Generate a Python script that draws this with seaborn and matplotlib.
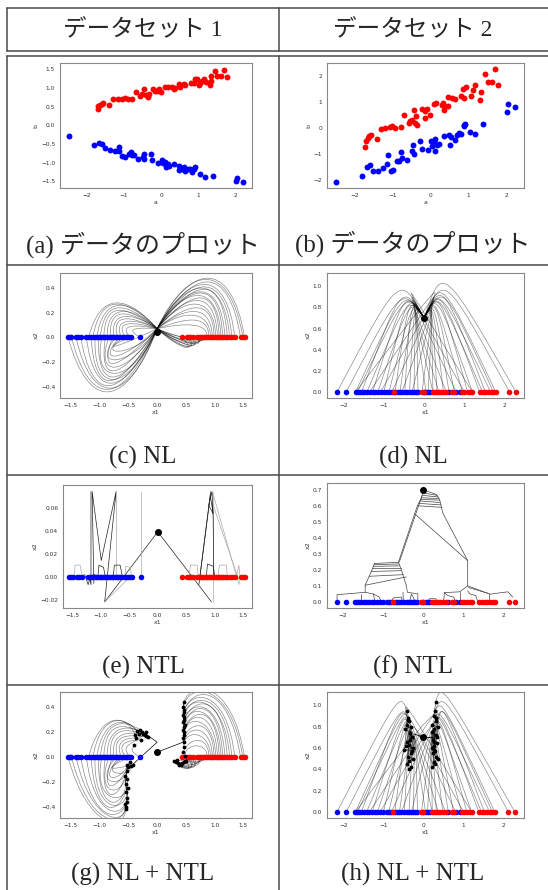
import numpy as np
import matplotlib
matplotlib.use('Agg')
import matplotlib.pyplot as plt
import seaborn as sns
from matplotlib.path import Path
from matplotlib.patches import PathPatch

# ---- データ ----
# (a) データセット1
d1_red_a = [-1.70, -1.68, -1.64, -1.59, -1.55, -1.39, -1.28, -1.17, -1.06, -0.98,
            -0.89, -0.77, -0.67, -0.58, -0.52, -0.46, -0.41, -0.36, -0.32, -0.23,
            -0.16, -0.12, -0.05, 0.00, 0.11, 0.18, 0.30, 0.33, 0.38, 0.47,
            0.51, 0.60, 0.64, 0.80, 0.87, 0.91, 0.96, 1.00, 1.05, 1.09,
            1.15, 1.19, 1.32, 1.34, 1.30, 1.45, 1.49, 1.60, 1.69, 1.76]
d1_red_b = [0.44, 0.51, 0.55, 0.58, 0.60, 0.55, 0.70, 0.71, 0.71, 0.73,
            0.71, 0.71, 0.88, 0.79, 0.84, 0.96, 0.82, 0.76, 0.85, 0.96,
            0.93, 0.91, 0.96, 0.88, 1.04, 1.04, 1.02, 0.97, 1.00, 1.12,
            1.04, 1.11, 1.09, 1.13, 1.14, 1.23, 1.25, 1.09, 1.13, 1.20,
            1.25, 1.16, 1.18, 1.31, 1.07, 1.45, 1.32, 1.32, 1.49, 1.29]
d1_blue_a = [-2.46, -1.79, -1.66, -1.59, -1.50, -1.37, -1.23, -1.14, -1.13, -1.04,
             -0.97, -0.85, -0.81, -0.77, -0.74, -0.61, -0.49, -0.47, -0.45, -0.28,
             -0.24, -0.09, 0.02, 0.04, 0.09, 0.13, 0.18, 0.22, 0.35, 0.47,
             0.48, 0.55, 0.60, 0.64, 0.72, 0.78, 0.82, 0.87, 0.91, 1.03,
             1.16, 1.39, 1.99, 2.03, 2.19]
d1_blue_b = [-0.29, -0.54, -0.48, -0.49, -0.60, -0.67, -0.70, -0.59, -0.70, -0.83,
             -0.86, -0.77, -0.72, -0.80, -0.79, -0.89, -0.86, -0.76, -0.89, -0.78,
             -0.93, -1.01, -0.93, -1.01, -0.99, -1.12, -1.05, -1.08, -1.03, -1.08,
             -1.21, -1.17, -1.13, -1.23, -1.17, -1.18, -1.25, -1.17, -1.13, -1.30,
             -1.39, -1.37, -1.50, -1.41, -1.53]

# (b) データセット2
d2_red_a = [-1.72, -1.70, -1.66, -1.63, -1.57, -1.41, -1.31, -1.19, -1.07, -1.02,
            -0.93, -0.78, -0.69, -0.58, -0.54, -0.50, -0.45, -0.41, -0.38, -0.36,
            -0.23, -0.16, -0.14, -0.10, -0.01, 0.10, 0.15, 0.29, 0.32, 0.34,
            0.36, 0.45, 0.47, 0.56, 0.63, 0.79, 0.85, 0.89, 0.94, 1.07,
            1.11, 1.16, 1.29, 1.33, 1.44, 1.51, 1.62, 1.70, 1.77]
d2_red_b = [-0.74, -0.50, -0.40, -0.33, -0.29, -0.44, -0.04, -0.01, 0.01, 0.05,
            -0.01, 0.01, 0.49, 0.18, 0.24, 0.31, 0.69, 0.18, 0.44, 0.12,
            0.73, 0.63, 0.37, 0.72, 0.49, 0.92, 0.96, 0.86, 0.97, 0.68,
            0.82, 0.83, 1.18, 1.14, 1.10, 1.21, 1.49, 1.14, 1.55, 1.21,
            1.45, 1.63, 1.08, 1.36, 2.08, 1.76, 1.76, 2.24, 1.65]
d2_blue_a = [-2.48, -1.82, -1.68, -1.60, -1.53, -1.39, -1.26, -1.15, -1.13, -1.04,
             -0.98, -0.88, -0.82, -0.79, -0.76, -0.62, -0.50, -0.47, -0.45, -0.29,
             -0.23, -0.08, 0.01, 0.03, 0.08, 0.12, 0.12, 0.16, 0.22, 0.34,
             0.48, 0.50, 0.54, 0.63, 0.70, 0.74, 0.81, 0.88, 0.89, 0.91,
             1.04, 1.17, 1.39, 2.00, 2.05, 2.21]
d2_blue_b = [-2.10, -1.87, -1.51, -1.43, -1.65, -1.65, -1.55, -1.38, -1.04, -1.65,
             -1.62, -1.29, -1.29, -0.94, -1.17, -1.23, -0.91, -0.65, -1.03, -0.53,
             -0.82, -0.87, -0.50, -0.69, -0.50, -0.44, -0.91, -0.65, -0.63, -0.31,
             -0.27, -0.65, -0.37, -0.46, -0.27, -0.21, -0.23, 0.05, 0.12, 0.15,
             -0.18, -0.24, 0.14, 0.60, 0.92, 0.79]

# 1次元に写した点 (c)(e)(g)
p1_blue_x = [-1.55, -1.52, -1.49, -1.42, -1.38, -1.33, -1.23, -1.19, -1.15, -1.12,
             -1.08, -1.05, -1.02, -0.99, -0.96, -0.93, -0.90, -0.87, -0.84, -0.81,
             -0.78, -0.75, -0.72, -0.69, -0.66, -0.62, -0.58, -0.55, -0.52, -0.49,
             -0.46, -0.30]
p1_red_x = [0.43, 0.52, 0.55, 0.58, 0.62, 0.69, 0.72, 0.75, 0.78, 0.81,
            0.84, 0.87, 0.90, 0.93, 0.96, 0.99, 1.02, 1.05, 1.08, 1.11,
            1.14, 1.18, 1.22, 1.26, 1.30, 1.35, 1.45, 1.49, 1.52]
# 1次元に写した点 (d)(f)(h)
p2_blue_x = [-2.16, -1.93, -1.70, -1.65, -1.60, -1.55, -1.48, -1.42, -1.35, -1.28,
             -1.22, -1.15, -1.08, -1.00, -0.92, -0.87, -0.80, -0.72, -0.66, -0.60,
             -0.55, -0.48, -0.42, -0.36, -0.30, -0.25, -0.20, -0.15, 0.00, 0.05,
             0.10, 0.15, 0.62, 0.80, 0.90]
p2_red_x = [-0.75, -0.05, 0.00, 0.22, 0.27, 0.32, 0.37, 0.42, 0.48, 0.55,
            0.70, 0.75, 0.95, 1.00, 1.08, 1.15, 1.20, 1.38, 1.45, 1.52,
            1.58, 1.65, 1.72, 1.78, 2.12, 2.28]

# (c) NL の軌跡: 始点, 壁のx, 角のx, 高さ
c_ll_start = [-1.55, -1.49, -1.41, -1.33, -1.23, -1.15, -1.08, -1.02, -0.96, -0.90, -0.84, -0.78, -0.72, -0.66, -0.58, -0.49]
c_ll_wall = [-1.20, -1.18, -1.15, -1.13, -1.10, -1.08, -1.12, -1.05, -1.15, -1.02, -1.10, -1.00, -1.17, -1.06, -1.12, -0.98]
c_ll_corner = [-0.55, -0.60, -0.50, -0.65, -0.58, -0.70, -0.52, -0.62, -0.45, -0.68, -0.56, -0.75, -0.48, -0.64, -0.40, -0.80]
c_ll_h = [-0.45, -0.43, -0.42, -0.40, -0.38, -0.36, -0.35, -0.33, -0.30, -0.28, -0.25, -0.22, -0.19, -0.16, -0.12, -0.08]

c_ul_start = [-1.19, -1.12, -1.05, -0.99, -0.93, -0.87, -0.81, -0.75, -0.69, -0.62, -0.55, -0.46, -0.30]
c_ul_wall = [-1.00, -0.98, -0.95, -0.92, -0.90, -0.88, -0.85, -0.83, -0.80, -0.78, -0.75, -0.70, -0.60]
c_ul_corner = [-0.55, -0.60, -0.50, -0.58, -0.62, -0.48, -0.55, -0.45, -0.50, -0.40, -0.42, -0.35, -0.30]
c_ul_h = [0.27, 0.26, 0.25, 0.23, 0.21, 0.20, 0.18, 0.16, 0.14, 0.12, 0.10, 0.08, 0.06]

c_ur_start = [1.52, 1.49, 1.45, 1.35, 1.30, 1.26, 1.22, 1.18, 1.14, 1.11, 1.08, 1.05, 1.02, 0.99, 0.96, 0.93, 0.90, 0.87]
c_ur_wall = [1.30, 1.28, 1.25, 1.22, 1.20, 1.18, 1.15, 1.12, 1.10, 1.08, 1.05, 1.02, 1.00, 0.98, 0.95, 0.92, 0.90, 0.88]
c_ur_corner = [0.60, 0.55, 0.65, 0.58, 0.62, 0.52, 0.68, 0.56, 0.60, 0.50, 0.64, 0.55, 0.48, 0.60, 0.52, 0.45, 0.58, 0.50]
c_ur_h = [0.47, 0.46, 0.44, 0.42, 0.40, 0.39, 0.38, 0.36, 0.35, 0.33, 0.31, 0.29, 0.26, 0.23, 0.20, 0.17, 0.13, 0.09]

c_lr_start = [0.43, 0.52, 0.55, 0.58, 0.62, 0.69, 0.72, 0.75, 0.78, 0.81, 0.84]
c_lr_wall = [0.70, 0.72, 0.75, 0.78, 0.80, 0.82, 0.85, 0.80, 0.88, 0.90, 0.92]
c_lr_corner = [0.45, 0.50, 0.40, 0.55, 0.48, 0.60, 0.35, 0.52, 0.45, 0.58, 0.42]
c_lr_h = [-0.09, -0.085, -0.08, -0.075, -0.07, -0.06, -0.055, -0.05, -0.04, -0.03, -0.02]

c_center = (0.0, 0.07)
c_dot = (0.0, 0.042)

# (g) NL + NTL: 軌跡の終点
g_ll_end_x = [-0.55, -0.54, -0.56, -0.52, -0.53, -0.55, -0.51, -0.54, -0.52, -0.56, -0.53, -0.50, -0.52, -0.48, -0.45, -0.42]
g_ll_end_y = [-0.42, -0.40, -0.38, -0.36, -0.33, -0.28, -0.25, -0.22, -0.18, -0.15, -0.11, -0.08, -0.06, -0.04, -0.07, -0.06]
g_ul_end_x = [-0.38, -0.35, -0.32, -0.30, -0.27, -0.24, -0.22, -0.19, -0.16, -0.36, -0.28, -0.20, -0.40]
g_ul_end_y = [0.18, 0.21, 0.19, 0.22, 0.20, 0.19, 0.18, 0.17, 0.16, 0.15, 0.14, 0.20, 0.10]
g_ur_end_x = [0.46, 0.45, 0.47, 0.46, 0.45, 0.47, 0.46, 0.45, 0.48, 0.46, 0.45, 0.47, 0.46, 0.45, 0.47, 0.46, 0.45, 0.48]
g_ur_end_y = [0.44, 0.40, 0.38, 0.36, 0.34, 0.32, 0.30, 0.28, 0.26, 0.24, 0.22, 0.20, 0.18, 0.15, 0.12, 0.08, 0.04, 0.01]
g_lr_end_x = [0.30, 0.33, 0.36, 0.38, 0.40, 0.42, 0.44, 0.46, 0.48, 0.50, 0.35]
g_lr_end_y = [-0.03, -0.04, -0.05, -0.06, -0.055, -0.065, -0.05, -0.04, -0.035, -0.03, -0.025]
g_path_r_x = [0.0, 0.45, 0.47, 0.46, 0.47, 0.46]
g_path_r_y = [0.04, 0.12, 0.20, 0.30, 0.38, 0.44]
g_path_l_x = [-0.54, -0.52, -0.55, -0.53, -0.50, -0.44, 0.0, -0.15, -0.25, -0.35]
g_path_l_y = [-0.42, -0.30, -0.20, -0.10, -0.06, -0.065, 0.12, 0.17, 0.20, 0.21]

# (d) NL: 始点, 山のx, 山の高さ
dl_start = [-2.16, -1.93, -1.70, -1.65, -1.55, -1.42, -1.28, -1.15, -1.00, -0.87, -0.72, -0.60,
            -0.48, -0.36, -0.25, -0.15, 0.05, 0.22, 0.37, 0.55, 0.80, 1.00, 1.20]
dl_peak_x = [-0.60, -0.55, -0.50, -0.45, -0.55, -0.40, -0.48, -0.35, -0.42, -0.30, -0.38, -0.28,
             -0.33, -0.25, -0.22, -0.20, -0.30, -0.35, -0.40, -0.45, -0.50, -0.38, -0.55]
dl_top = [0.98, 0.88, 0.86, 0.84, 0.90, 0.80, 0.85, 0.78, 0.82, 0.76, 0.80, 0.74,
          0.78, 0.75, 0.73, 0.72, 0.76, 0.80, 0.83, 0.86, 0.90, 0.82, 0.95]
dr_start = [2.28, 2.12, 1.78, 1.72, 1.65, 1.52, 1.45, 1.38, 1.20, 1.08, 0.95, 0.75,
            0.62, 0.48, 0.32, 0.22, 0.10, -0.05, -0.30, -0.55, -0.80, -1.08, -1.35, -1.70]
dr_peak_x = [0.45, 0.50, 0.42, 0.48, 0.38, 0.45, 0.35, 0.40, 0.32, 0.38, 0.28, 0.30,
             0.25, 0.22, 0.20, 0.18, 0.22, 0.25, 0.30, 0.35, 0.40, 0.32, 0.45, 0.50]
dr_top = [1.06, 0.98, 0.95, 0.90, 0.88, 0.92, 0.85, 0.87, 0.82, 0.84, 0.80, 0.78,
          0.76, 0.74, 0.73, 0.72, 0.75, 0.77, 0.80, 0.83, 0.86, 0.81, 0.90, 0.95]
d_center = (0.0, 0.70)

# (h) NL + NTL: 軌跡の終点
hl_end_x = [-0.40, -0.38, -0.35, -0.42, -0.30, -0.45, -0.33, -0.28, -0.40, -0.36, -0.25, -0.48,
            -0.32, -0.38, -0.27, -0.35, -0.42, -0.30, -0.37, -0.44, -0.34, -0.29, -0.39]
hl_end_y = [0.95, 0.88, 0.85, 0.82, 0.80, 0.78, 0.74, 0.70, 0.66, 0.63, 0.60, 0.58,
            0.55, 0.52, 0.50, 0.48, 0.45, 0.42, 0.40, 0.62, 0.68, 0.57, 0.86]
hr_end_x = [0.30, 0.28, 0.25, 0.32, 0.22, 0.35, 0.27, 0.20, 0.30, 0.24, 0.33, 0.26,
            0.21, 0.29, 0.23, 0.31, 0.36, 0.25, 0.28, 0.22, 0.34, 0.27, 0.30, 0.25]
hr_end_y = [1.03, 0.95, 0.90, 0.85, 0.82, 0.80, 0.78, 0.75, 0.72, 0.68, 0.65, 0.62,
            0.60, 0.57, 0.55, 0.52, 0.50, 0.47, 0.45, 0.42, 0.70, 0.66, 0.88, 0.58]

# (e) NTL の折れ線 (x列, y列, 濃さ)
e_lines = [
    ([0.0, -0.93, -0.73, -0.99, -1.15, -1.12], [0.039, -0.022, 0.074, 0.014, 0.074, -0.006], 'k'),
    ([-1.17, -1.17, -1.20, -1.10], [0.074, -0.007, 0.0, 0.002], 'k'),
    ([-0.93, -0.46], [-0.022, 0.001], 'g'),
    ([-0.74, -0.74], [0.074, 0.0], 'g'),
    ([-0.30, -0.30], [0.074, 0.0], 'g'),
    ([-1.46, -1.45, -1.36, -1.33], [0.0, 0.010, 0.010, 0.001], 'g'),
    ([-1.28, -1.22, -1.18], [0.002, -0.007, 0.0], 'k'),
    ([-1.05, -1.03, -0.95, -0.92], [0.0, 0.010, 0.008, 0.0], 'k'),
    ([-0.78, -0.76, -0.66, -0.62], [0.0, 0.010, 0.010, 0.0], 'k'),
    ([-0.58, -0.56, -0.48, -0.46], [0.0, 0.009, 0.008, 0.0], 'g'),
    ([0.0, 0.94], [0.039, -0.022], 'k'),
    ([0.96, 0.96], [-0.022, 0.074], 'g'),
    ([0.93, 0.74], [0.074, 0.001], 'k'),
    ([0.92, 0.72], [0.072, -0.007], 'k'),
    ([0.95, 1.44], [0.065, -0.006], 'g'),
    ([0.98, 1.42], [0.070, -0.007], 'g'),
    ([0.92, 0.97, 0.89, 0.95, 0.97, 0.98], [0.070, 0.055, 0.062, 0.074, 0.050, 0.0], 'k'),
    ([0.55, 0.57, 0.69, 0.71], [0.0, 0.010, 0.010, 0.0], 'g'),
    ([0.85, 0.87, 0.97, 1.00], [0.0, 0.011, 0.009, 0.0], 'k'),
    ([1.05, 1.08, 1.20, 1.22], [0.0, 0.010, 0.010, 0.0], 'g'),
    ([1.38, 1.42, 1.44], [0.0, 0.010, 0.0], 'g'),
]
e_dot = (0.0, 0.039)

# (f) NTL の折れ線
f_lines = [
    [0.0, -0.05, -0.15, -0.22, -0.62], [0.70, 0.65, 0.60, 0.55, 0.25],
    [-0.04, -0.60], [0.66, 0.25],
    [0.0, 0.32, 0.40, 0.48, 1.10, 1.10], [0.70, 0.67, 0.64, 0.555, 0.257, 0.10],
    [-0.22, 1.10], [0.55, 0.257],
    [-0.02, 0.34], [0.68, 0.665],
    [-0.03, 0.36], [0.665, 0.655],
    [-0.05, 0.38], [0.65, 0.645],
    [-0.07, 0.40], [0.64, 0.635],
    [-0.09, 0.42], [0.63, 0.62],
    [-0.12, 0.44], [0.615, 0.605],
    [-0.15, 0.46], [0.60, 0.59],
    [-0.62, -0.55, -0.43], [0.247, 0.20, 0.104],
    [-1.22, -1.28, -1.45], [0.24, 0.20, 0.104],
    [-1.22, -0.62], [0.24, 0.247],
    [-1.23, -0.62], [0.232, 0.237],
    [-1.25, -0.60], [0.222, 0.225],
    [-1.27, -0.57], [0.21, 0.21],
    [-1.30, -0.55], [0.19, 0.195],
    [-1.35, -0.50], [0.16, 0.17],
    [-1.45, -0.43], [0.104, 0.156],
    [-1.45, -1.45, -2.15, -2.15], [0.104, 0.06, 0.045, 0.0],
    [-1.45, -1.25, -1.20], [0.06, 0.05, 0.0],
    [-1.55, -1.55], [0.05, 0.0],
    [-1.25, -1.10, -1.05], [0.05, 0.03, 0.0],
    [-0.43, -0.40, -0.14, -0.14], [0.104, 0.06, 0.05, 0.0],
    [-0.51, -0.50], [0.06, 0.0],
    [-0.80, -0.75, -0.55, -0.52], [0.0, 0.025, 0.03, 0.0],
    [-0.35, -0.30, -0.20], [0.0, 0.05, 0.0],
    [1.10, 1.64, 1.64], [0.10, 0.05, 0.0],
    [1.12, 1.62], [0.09, 0.052],
    [1.10, 0.90, 0.52, 0.50], [0.10, 0.063, 0.058, 0.0],
    [0.90, 0.90], [0.063, 0.0],
    [0.52, 0.60, 0.75, 0.80], [0.058, 0.04, 0.03, 0.0],
    [1.10, 1.15, 1.30, 1.35], [0.07, 0.05, 0.04, 0.0],
    [1.64, 2.10, 2.22], [0.048, 0.063, 0.03],
    [0.10, 0.15, 0.30, 0.35], [0.0, 0.02, 0.02, 0.0],
]
f_dot = (0.0, 0.70)


def bezier(ax, p0, p1, p2, p3, alpha=0.45, lw=0.5):
    path = Path([p0, p1, p2, p3], [Path.MOVETO, Path.CURVE4, Path.CURVE4, Path.CURVE4])
    ax.add_patch(PathPatch(path, fill=False, edgecolor='black', alpha=alpha, lw=lw))


def lobe(ax, start, wall, corner, h, end_x, end_y):
    for i in range(len(start)):
        ctrl = h[i] * 1.33
        bezier(ax, (start[i], 0.0), (wall[i], ctrl), (corner[i], ctrl), (end_x[i], end_y[i]))


def arch(ax, start, peak_x, top, end_x, end_y):
    for i in range(len(start)):
        ctrl = top[i] * 1.15
        bezier(ax, (start[i], 0.0), (peak_x[i], ctrl), (peak_x[i], ctrl), (end_x[i], end_y[i]))


def style(ax, xlim, ylim, xt, yt, xl, yl):
    ax.set_xlim(xlim)
    ax.set_ylim(ylim)
    ax.set_xticks(xt)
    ax.set_yticks(yt)
    ax.set_xlabel(xl, fontsize=4.5, labelpad=1.5, color='#333')
    ax.set_ylabel(yl, fontsize=4.5, labelpad=1.5, color='#333')
    ax.tick_params(labelsize=4.2, length=2, width=0.5, pad=1.5, colors='#333')
    for s in ax.spines.values():
        s.set_visible(True)
        s.set_color('#888888')
        s.set_linewidth(0.8)


def points_1d(ax, blue, red, s=16):
    sns.scatterplot(x=blue, y=[0.0] * len(blue), color='blue', s=s, linewidth=0, ax=ax, legend=False, zorder=3)
    sns.scatterplot(x=red, y=[0.0] * len(red), color='red', s=s, linewidth=0, ax=ax, legend=False, zorder=3)


sns.set_style('white')
plt.rcParams['font.family'] = ['DejaVu Sans']
W, H = 548, 890
fig = plt.figure(figsize=(5.48, 8.90), dpi=100)

# 表の罫線とキャプション
bg = fig.add_axes([0, 0, 1, 1])
bg.set_xlim(0, W)
bg.set_ylim(H, 0)
bg.axis('off')
lc = '#4a4a4a'
for y in [8, 51, 56, 265, 475, 685]:
    bg.plot([7, W], [y, y], color=lc, lw=1.1)
bg.plot([7, 7], [8, 51], color=lc, lw=1.1)
bg.plot([279, 279], [8, 51], color=lc, lw=1.1)
bg.plot([7, 7], [56, H], color=lc, lw=1.1)
bg.plot([279, 279], [56, H], color=lc, lw=1.1)

jp = ['Liberation Serif', 'Noto Sans CJK JP']
bg.text(143, 30, 'データセット 1', ha='center', va='center', fontsize=17, family=jp)
bg.text(413, 30, 'データセット 2', ha='center', va='center', fontsize=17, family=jp)
captions = [('(a) データのプロット', 143, 245), ('(b) データのプロット', 413, 244),
            ('(c) NL', 143, 457), ('(d) NL', 413, 457),
            ('(e) NTL', 143, 667), ('(f) NTL', 413, 667),
            ('(g) NL + NTL', 143, 874), ('(h) NL + NTL', 413, 874)]
for txt, x, y in captions:
    bg.text(x, y, txt, ha='center', va='center', fontsize=18, family=jp)


def add_ax(l, t, r, b):
    return fig.add_axes([l / W, 1 - b / H, (r - l) / W, (b - t) / H])


# (a)
ax = add_ax(60, 63, 252, 188)
sns.scatterplot(x=d1_red_a, y=d1_red_b, color='red', s=18, linewidth=0, ax=ax, legend=False)
sns.scatterplot(x=d1_blue_a, y=d1_blue_b, color='blue', s=18, linewidth=0, ax=ax, legend=False)
style(ax, (-2.71, 2.43), (-1.68, 1.67), [-2, -1, 0, 1, 2], [-1.5, -1.0, -0.5, 0.0, 0.5, 1.0, 1.5], 'a', 'b')

# (b)
ax = add_ax(327, 63, 524, 188)
sns.scatterplot(x=d2_red_a, y=d2_red_b, color='red', s=18, linewidth=0, ax=ax, legend=False)
sns.scatterplot(x=d2_blue_a, y=d2_blue_b, color='blue', s=18, linewidth=0, ax=ax, legend=False)
style(ax, (-2.73, 2.46), (-2.32, 2.49), [-2, -1, 0, 1, 2], [-2, -1, 0, 1, 2], 'a', 'b')

# (c)
ax = add_ax(60, 273, 252, 398)
for st, wa, co, hh in [(c_ll_start, c_ll_wall, c_ll_corner, c_ll_h),
                       (c_ul_start, c_ul_wall, c_ul_corner, c_ul_h),
                       (c_ur_start, c_ur_wall, c_ur_corner, c_ur_h),
                       (c_lr_start, c_lr_wall, c_lr_corner, c_lr_h)]:
    lobe(ax, st, wa, co, hh, [c_center[0]] * len(st), [c_center[1]] * len(st))
points_1d(ax, p1_blue_x, p1_red_x)
ax.scatter([c_dot[0]], [c_dot[1]], color='black', s=16, zorder=4)
xt1 = [-1.5, -1.0, -0.5, 0.0, 0.5, 1.0, 1.5]
style(ax, (-1.69, 1.65), (-0.49, 0.52), xt1, [-0.4, -0.2, 0.0, 0.2, 0.4], 'x1', 'x2')

# (d)
ax = add_ax(327, 273, 524, 398)
arch(ax, dl_start, dl_peak_x, dl_top, [d_center[0]] * len(dl_start), [d_center[1]] * len(dl_start))
arch(ax, dr_start, dr_peak_x, dr_top, [d_center[0]] * len(dr_start), [d_center[1]] * len(dr_start))
points_1d(ax, p2_blue_x, p2_red_x)
ax.scatter([d_center[0]], [d_center[1]], color='black', s=16, zorder=4)
xt2 = [-2, -1, 0, 1, 2]
style(ax, (-2.41, 2.48), (-0.057, 1.126), xt2, [0.0, 0.2, 0.4, 0.6, 0.8, 1.0], 'x1', 'x2')

# (e)
ax = add_ax(63, 485, 252, 608)
for xs, ys, c in e_lines:
    ax.plot(xs, ys, color='#222222' if c == 'k' else '#aaaaaa', lw=0.5)
points_1d(ax, p1_blue_x, p1_red_x)
ax.scatter([e_dot[0]], [e_dot[1]], color='black', s=16, zorder=4)
style(ax, (-1.66, 1.65), (-0.0273, 0.0797), xt1, [-0.02, 0.0, 0.02, 0.04, 0.06], 'x1', 'x2')

# (f)
ax = add_ax(327, 483, 524, 608)
for i in range(0, len(f_lines), 2):
    ax.plot(f_lines[i], f_lines[i + 1], color='#444444', lw=0.5)
points_1d(ax, p2_blue_x, p2_red_x)
ax.scatter([f_dot[0]], [f_dot[1]], color='black', s=16, zorder=4)
style(ax, (-2.40, 2.50), (-0.038, 0.742), xt2, [0.0, 0.1, 0.2, 0.3, 0.4, 0.5, 0.6, 0.7], 'x1', 'x2')

# (g)
ax = add_ax(60, 692, 252, 818)
lobe(ax, c_ll_start, c_ll_wall, c_ll_corner, c_ll_h, g_ll_end_x, g_ll_end_y)
lobe(ax, c_ul_start, c_ul_wall, c_ul_corner, c_ul_h, g_ul_end_x, g_ul_end_y)
lobe(ax, c_ur_start, c_ur_wall, c_ur_corner, c_ur_h, g_ur_end_x, g_ur_end_y)
lobe(ax, c_lr_start, c_lr_wall, c_lr_corner, c_lr_h, g_lr_end_x, g_lr_end_y)
ax.plot(g_path_r_x, g_path_r_y, color='black', lw=0.5)
ax.plot(g_path_l_x, g_path_l_y, color='black', lw=0.5)
points_1d(ax, p1_blue_x, p1_red_x)
for ex, ey in [(g_ll_end_x, g_ll_end_y), (g_ul_end_x, g_ul_end_y), (g_ur_end_x, g_ur_end_y), (g_lr_end_x, g_lr_end_y)]:
    ax.scatter(ex, ey, color='black', s=3, zorder=4)
ax.scatter([c_dot[0]], [c_dot[1]], color='black', s=16, zorder=4)
style(ax, (-1.69, 1.65), (-0.49, 0.524), xt1, [-0.4, -0.2, 0.0, 0.2, 0.4], 'x1', 'x2')

# (h)
ax = add_ax(327, 692, 524, 818)
arch(ax, dl_start, dl_peak_x, dl_top, hl_end_x, hl_end_y)
arch(ax, dr_start, dr_peak_x, dr_top, hr_end_x, hr_end_y)
hl = sorted(zip(hl_end_y, hl_end_x))
hr = sorted(zip(hr_end_y, hr_end_x))
ax.plot([p[1] for p in hl], [p[0] for p in hl], color='black', lw=0.35)
ax.plot([p[1] for p in hr], [p[0] for p in hr], color='black', lw=0.35)
ax.plot([-0.22, d_center[0], 0.25], [0.73, d_center[1], 0.70], color='black', lw=0.6)
points_1d(ax, p2_blue_x, p2_red_x)
ax.scatter(hl_end_x, hl_end_y, color='black', s=3, zorder=4)
ax.scatter(hr_end_x, hr_end_y, color='black', s=3, zorder=4)
ax.scatter([d_center[0]], [d_center[1]], color='black', s=16, zorder=4)
style(ax, (-2.41, 2.51), (-0.057, 1.126), xt2, [0.0, 0.2, 0.4, 0.6, 0.8, 1.0], 'x1', 'x2')

fig.savefig('out.png', dpi=100)
plt.close(fig)
